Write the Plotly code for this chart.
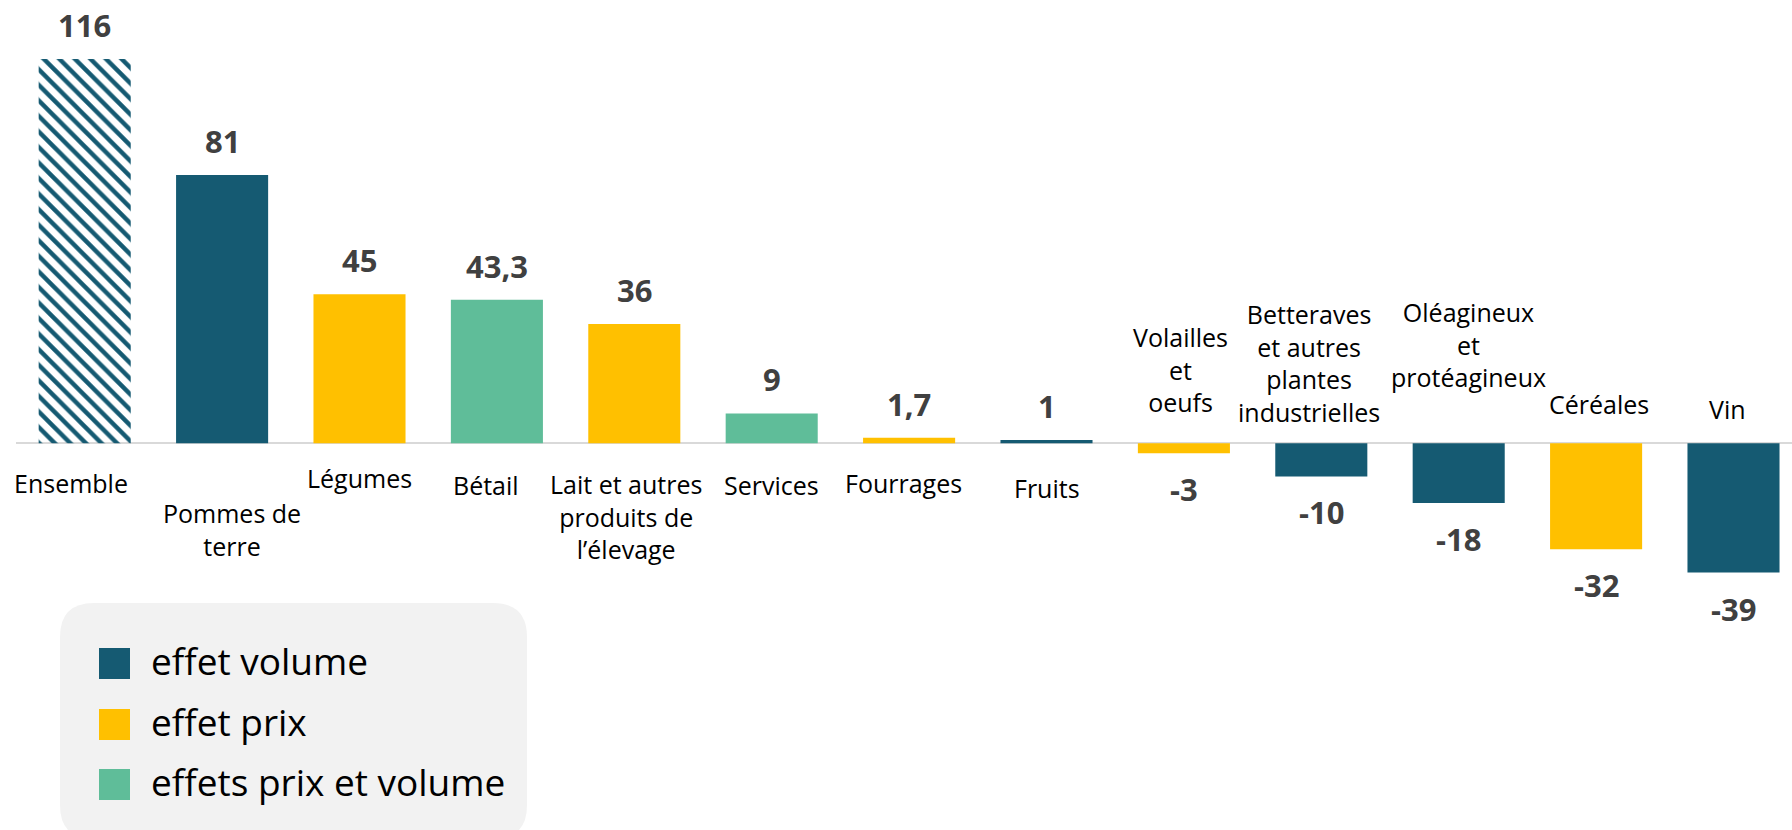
import plotly.graph_objects as go

# ---------------- data ----------------
categories = ["Ensemble", "Pommes de terre", "Légumes", "Bétail",
              "Lait et autres produits de l’élevage", "Services", "Fourrages",
              "Fruits", "Volailles et oeufs",
              "Betteraves et autres plantes industrielles",
              "Oléagineux et protéagineux", "Céréales", "Vin"]
category_labels = ["Ensemble", "Pommes de<br>terre", "Légumes", "Bétail",
                   "Lait et autres<br>produits de<br>l’élevage", "Services",
                   "Fourrages", "Fruits", "Volailles<br>et<br>oeufs",
                   "Betteraves<br>et autres<br>plantes<br>industrielles",
                   "Oléagineux<br>et<br>protéagineux", "Céréales", "Vin"]
values = [116, 81, 45, 43.3, 36, 9, 1.7, 1, -3, -10, -18, -32, -39]
effects = ["ensemble", "volume", "prix", "mixte", "prix", "mixte", "prix",
           "volume", "prix", "volume", "volume", "prix", "volume"]
legend_keys = ["volume", "prix", "mixte"]
legend_names = ["effet volume", "effet prix", "effets prix et volume"]

# ---------------- styles ----------------
TEAL = "#155A72"
YELLOW = "#FFC000"
GREEN = "#5FBD99"
colors = {"ensemble": TEAL, "volume": TEAL, "prix": YELLOW, "mixte": GREEN}

W, H = 1792, 830
ML = 16
PW = W - ML
PH = H
ZERO_PX = 443.3
PX_PER_UNIT = 3.313
y_top = ZERO_PX / PX_PER_UNIT
y_bot = -(PH - ZERO_PX) / PX_PER_UNIT
CAT_PX = 137.4
x_max = -0.5 + PW / CAT_PX

# per-label offsets (pixels) for the category texts
label_xshift = [-14, 10, 0, -11, -8, 0, -6, 0, -3, -12, 10, 3, -6]
label_yshift = [21, 51, 16, 23, 22, 23, 21, 26, 22, 12, 47, 20, 15]


def px_x(px):
    return (px - ML) / PW


def px_y(py):
    return 1 - py / PH


def fmt(v):
    return f"{v:g}".replace(".", ",")


n = len(categories)
fig = go.Figure()
fig.add_trace(go.Bar(
    x=categories,
    y=values,
    marker=dict(
        color=[colors[e] for e in effects],
        line=dict(width=0),
        pattern=dict(
            shape=["\\" if e == "ensemble" else "" for e in effects],
            fgcolor=[TEAL] * n,
            bgcolor=["white"] * n,
            fgopacity=1,
            size=11,
            solidity=0.4,
            fillmode="replace",
        ),
    ),
    showlegend=False,
    hoverinfo="x+y",
))

annotations = []
for i, (cat, lab, v) in enumerate(zip(categories, category_labels, values)):
    # value label
    annotations.append(dict(
        x=cat, y=v, xref="x", yref="y",
        text=f"<b>{fmt(v)}</b>", showarrow=False,
        yanchor="bottom" if v >= 0 else "top",
        yshift=11 if v >= 0 else -13,
        font=dict(family="Open Sans", size=31, color="#404040"),
    ))
    # category label (below the axis for positive bars, above for negative)
    annotations.append(dict(
        x=cat, y=0, xref="x", yref="y",
        text=lab, showarrow=False, align="center",
        yanchor="top" if v >= 0 else "bottom",
        yshift=-label_yshift[i] if v >= 0 else label_yshift[i],
        xshift=label_xshift[i],
        font=dict(family="Open Sans", size=25, color="black"),
    ))

shapes = []
# legend box (rounded)
x0, x1, y0, y1, r = 60, 527, 603, 839, 34
path = (f"M {px_x(x0 + r)},{px_y(y0)} L {px_x(x1 - r)},{px_y(y0)} "
        f"Q {px_x(x1)},{px_y(y0)} {px_x(x1)},{px_y(y0 + r)} "
        f"L {px_x(x1)},{px_y(y1 - r)} Q {px_x(x1)},{px_y(y1)} {px_x(x1 - r)},{px_y(y1)} "
        f"L {px_x(x0 + r)},{px_y(y1)} Q {px_x(x0)},{px_y(y1)} {px_x(x0)},{px_y(y1 - r)} "
        f"L {px_x(x0)},{px_y(y0 + r)} Q {px_x(x0)},{px_y(y0)} {px_x(x0 + r)},{px_y(y0)} Z")
shapes.append(dict(type="path", path=path, xref="paper", yref="paper",
                   fillcolor="#F2F2F2", line=dict(width=0), layer="below"))

row_centers = [663.5, 724.5, 784.5]
for key, name, cy in zip(legend_keys, legend_names, row_centers):
    shapes.append(dict(type="rect", xref="paper", yref="paper",
                       x0=px_x(99), x1=px_x(130),
                       y0=px_y(cy + 15.5), y1=px_y(cy - 15.5),
                       fillcolor=colors[key], line=dict(width=0)))
    annotations.append(dict(
        x=px_x(149), y=px_y(cy - 3), xref="paper", yref="paper",
        xanchor="left", yanchor="middle", showarrow=False, text=name,
        font=dict(family="Open Sans", size=37, color="black"),
    ))

fig.update_layout(
    width=W, height=H,
    margin=dict(l=ML, r=0, t=0, b=0),
    paper_bgcolor="white", plot_bgcolor="white",
    bargap=0.33,
    xaxis=dict(range=[-0.5, x_max], showticklabels=False, showgrid=False,
               zeroline=False, showline=False, ticks="", fixedrange=True),
    yaxis=dict(range=[y_bot, y_top], showticklabels=False, showgrid=False,
               zeroline=True, zerolinecolor="#D9D9D9", zerolinewidth=2,
               showline=False, ticks="", fixedrange=True),
    annotations=annotations,
    shapes=shapes,
    font=dict(family="Open Sans"),
)

fig.write_html(
    "out.html",
    config={"displayModeBar": False},
    post_script="document.body.style.margin='0';document.body.style.overflow='hidden';",
)
